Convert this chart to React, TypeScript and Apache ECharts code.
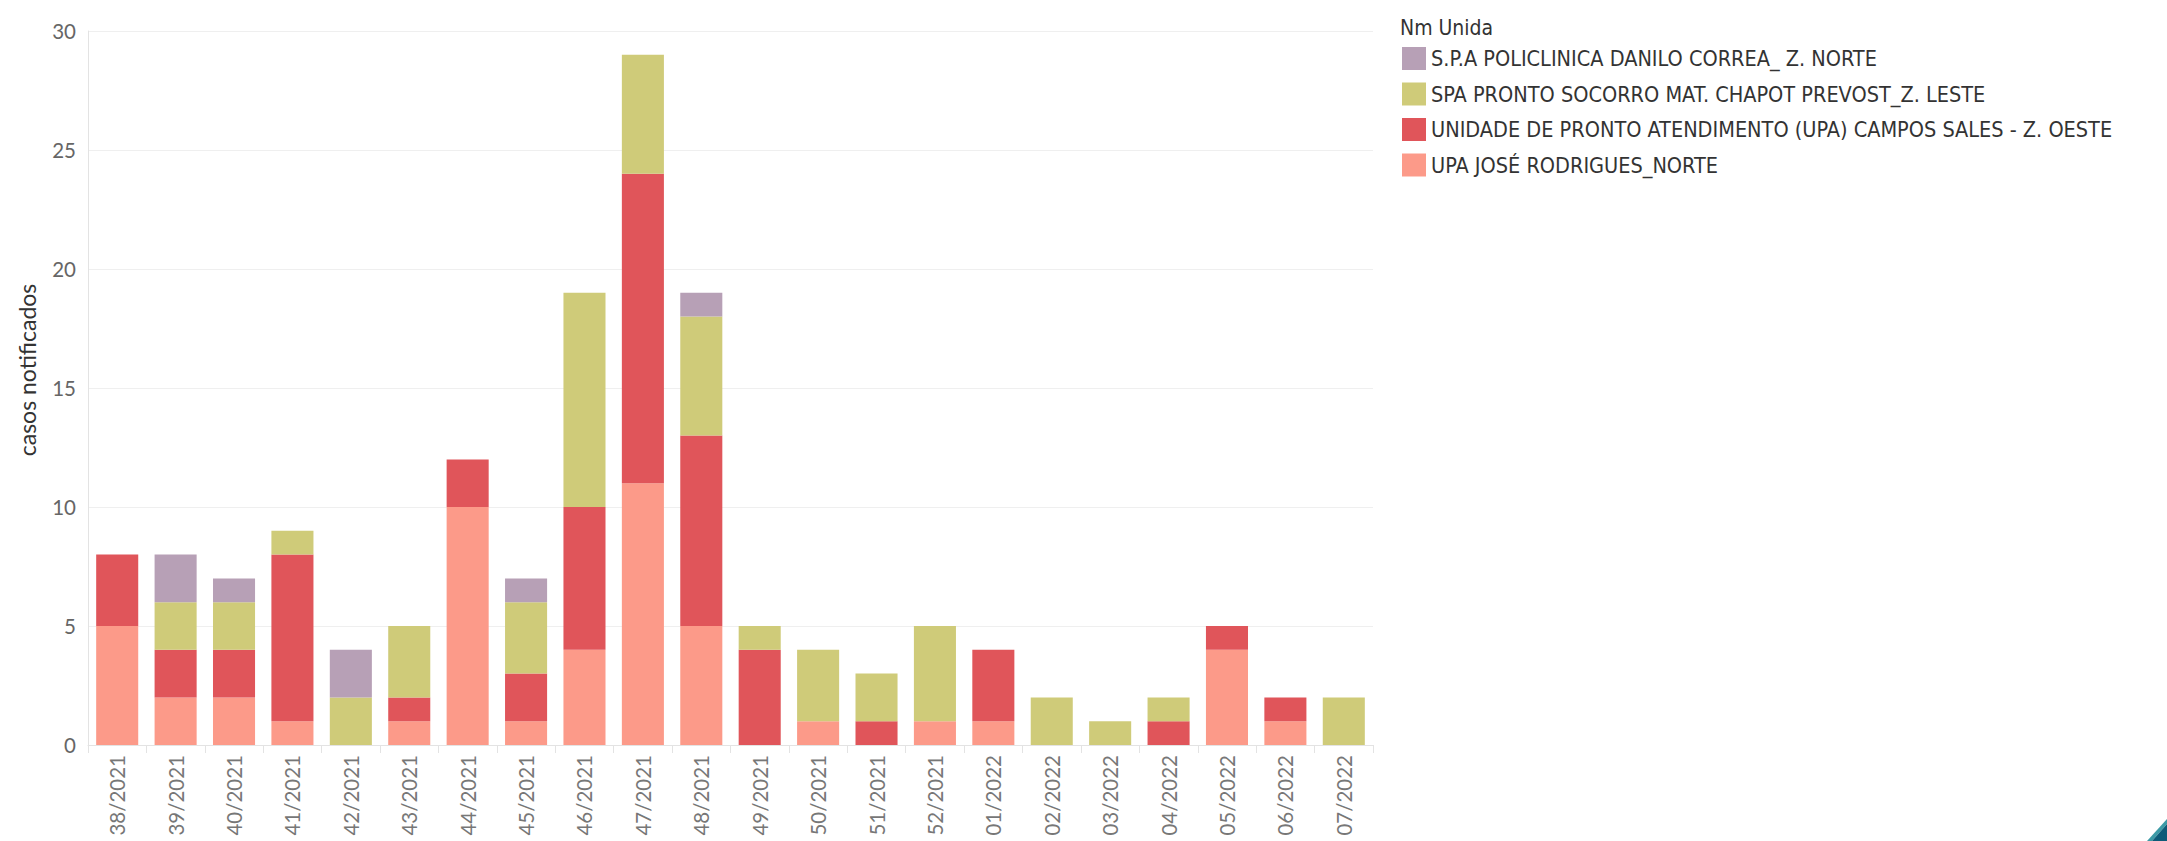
import React, { useEffect, useRef } from "react";
import * as echarts from "echarts";

const weeks = [
  "38/2021", "39/2021", "40/2021", "41/2021", "42/2021", "43/2021", "44/2021", "45/2021",
  "46/2021", "47/2021", "48/2021", "49/2021", "50/2021", "51/2021", "52/2021",
  "01/2022", "02/2022", "03/2022", "04/2022", "05/2022", "06/2022", "07/2022",
];

const seriesNames = [
  "S.P.A POLICLINICA DANILO CORREA_ Z. NORTE",
  "SPA PRONTO SOCORRO MAT. CHAPOT PREVOST_Z. LESTE",
  "UNIDADE DE PRONTO ATENDIMENTO (UPA) CAMPOS SALES - Z. OESTE",
  "UPA JOSÉ RODRIGUES_NORTE",
];

const upaJose = [5, 2, 2, 1, 0, 1, 10, 1, 4, 11, 5, 0, 1, 0, 1, 1, 0, 0, 0, 4, 1, 0];
const upaCampos = [3, 2, 2, 7, 0, 1, 2, 2, 6, 13, 8, 4, 0, 1, 0, 3, 0, 0, 1, 1, 1, 0];
const spaChapot = [0, 2, 2, 1, 2, 3, 0, 3, 9, 5, 5, 1, 3, 2, 4, 0, 2, 1, 1, 0, 0, 2];
const spaDanilo = [0, 2, 1, 0, 2, 0, 0, 1, 0, 0, 1, 0, 0, 0, 0, 0, 0, 0, 0, 0, 0, 0];

const colors = {
  danilo: "#b7a0b6",
  chapot: "#cfcb79",
  campos: "#e0555a",
  jose: "#fc9a89",
};

const yTicks = { min: 0, max: 30, interval: 5 };

export default function App() {
  const ref = useRef<HTMLDivElement>(null);

  useEffect(() => {
    if (!ref.current) return;
    const chart = echarts.init(ref.current, undefined, { renderer: "svg" });
    const mk = (name: string, data: number[], color: string) => ({
      name,
      type: "bar",
      stack: "total",
      data: data.map((v) => (v === 0 ? null : v)),
      itemStyle: { color },
      barCategoryGap: "28%",
    });
    const narrow = "'Liberation Sans Narrow', 'DejaVu Sans Condensed', sans-serif";
    chart.setOption({
      animation: false,
      backgroundColor: "#ffffff",
      textStyle: { fontFamily: "Lato, 'Open Sans', sans-serif" },
      title: {
        text: "Nm Unida",
        left: 1395,
        top: 12,
        textStyle: {
          fontFamily: narrow,
          fontSize: 21,
          fontWeight: 500,
          color: "#333333",
        },
      },
      legend: {
        orient: "vertical",
        left: 1397,
        top: 42,
        itemWidth: 24,
        itemHeight: 23,
        itemGap: 12.5,
        icon: "rect",
        data: seriesNames,
        textStyle: {
          fontFamily: narrow,
          fontSize: 21.5,
          color: "#333333",
        },
      },
      grid: { left: 88, right: 794, top: 31, bottom: 96 },
      xAxis: {
        type: "category",
        data: weeks,
        axisLine: { show: true, lineStyle: { color: "#e3e3e3" } },
        axisTick: { show: true, length: 8, lineStyle: { color: "#e3e3e3" } },
        axisLabel: {
          rotate: 90,
          fontSize: 20.5,
          color: "#777777",
          margin: 10,
          fontFamily: "Lato, 'Open Sans', sans-serif",
        },
      },
      yAxis: {
        type: "value",
        min: yTicks.min,
        max: yTicks.max,
        interval: yTicks.interval,
        name: "casos notificados",
        nameLocation: "middle",
        nameGap: 50,
        nameTextStyle: {
          fontSize: 23,
          color: "#333333",
          fontFamily: "Lato, 'Open Sans', sans-serif",
          padding: [0, 0, 0, 36],
        },
        axisLine: { show: true, lineStyle: { color: "#e3e3e3" } },
        axisTick: { show: false },
        axisLabel: {
          fontSize: 20.5,
          color: "#666666",
          margin: 12,
          fontFamily: "Lato, 'Open Sans', sans-serif",
        },
        splitLine: { lineStyle: { color: "#efefef" } },
      },
      series: [
        mk(seriesNames[3], upaJose, colors.jose),
        mk(seriesNames[2], upaCampos, colors.campos),
        mk(seriesNames[1], spaChapot, colors.chapot),
        mk(seriesNames[0], spaDanilo, colors.danilo),
      ],
      graphic: [
        {
          type: "polygon",
          shape: { points: [[2147, 841], [2167, 819], [2167, 824], [2152, 841]] },
          style: { fill: "#3c9aa6" },
        },
        {
          type: "polygon",
          shape: { points: [[2152, 841], [2167, 824], [2167, 841]] },
          style: { fill: "#0d5b78" },
        },
      ],
    });
    return () => chart.dispose();
  }, []);

  return (
    <div
      ref={ref}
      style={{ position: "absolute", left: 0, top: 0, width: 2167, height: 841 }}
    />
  );
}
